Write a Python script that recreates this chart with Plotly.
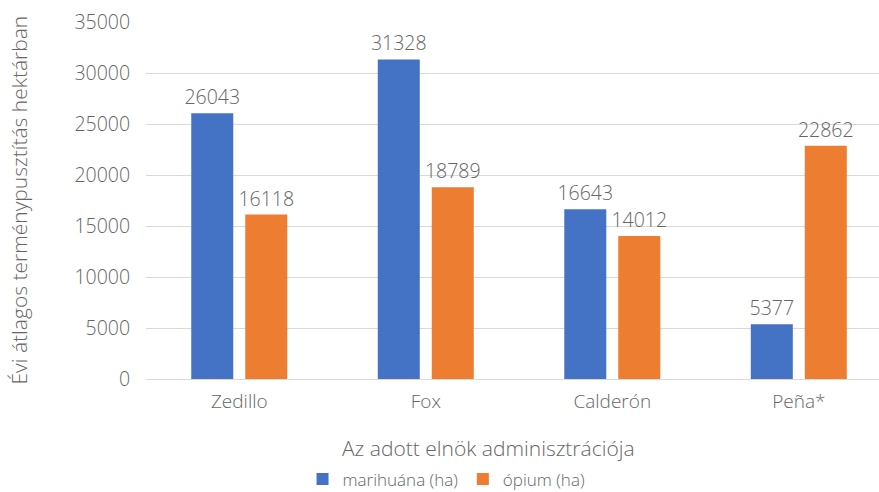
import plotly.graph_objects as go

categories = ["Zedillo", "Fox", "Calderón", "Peña*"]
marihuana = [26043, 31328, 16643, 5377]
opium = [16118, 18789, 14012, 22862]
series_names = ["marihuána (ha)", "ópium (ha)"]
y_ticks = [0, 5000, 10000, 15000, 20000, 25000, 30000, 35000]

FONT = "Open Sans"
GREY = "#666666"
W = 300

fig = go.Figure()
fig.add_trace(go.Bar(
    x=categories, y=marihuana, name=series_names[0],
    marker=dict(color="#4472C4", line=dict(width=0)),
    text=[str(v) for v in marihuana], textposition="outside", constraintext="none",
    textfont=dict(family=FONT, size=19.5, color=GREY, weight=W),
    cliponaxis=False,
))
fig.add_trace(go.Bar(
    x=categories, y=opium, name=series_names[1],
    marker=dict(color="#ED7D31", line=dict(width=0)),
    text=[str(v) for v in opium], textposition="outside", constraintext="none",
    textfont=dict(family=FONT, size=19.5, color=GREY, weight=W),
    cliponaxis=False,
))

fig.update_layout(
    width=879, height=492,
    margin=dict(l=146, r=0, t=22, b=113, autoexpand=False),
    paper_bgcolor="white", plot_bgcolor="white",
    barmode="group", bargap=0.421, bargroupgap=0.222,
    font=dict(family=FONT, color=GREY, size=18, weight=W),
    showlegend=True,
    legend=dict(
        orientation="h", xref="container", yref="container",
        x=0.508, xanchor="center", y=0.0255, yanchor="middle",
        font=dict(family=FONT, size=17, color=GREY, weight=W),
        itemwidth=30, traceorder="normal",
    ),
    xaxis=dict(
        range=[-0.5, 3.43], showgrid=False, zeroline=False,
        showline=True, linecolor="#d9d9d9", linewidth=1,
        ticks="outside", ticklen=5, tickcolor="rgba(0,0,0,0)",
        tickfont=dict(family=FONT, size=19, color=GREY, weight=W),
    ),
    yaxis=dict(
        range=[0, 35000], tickvals=y_ticks, ticktext=[str(v) for v in y_ticks],
        showgrid=True, gridcolor="#d9d9d9", gridwidth=1,
        zeroline=False, showline=False,
        ticks="outside", ticklen=11, tickcolor="rgba(0,0,0,0)",
        tickfont=dict(family=FONT, size=19.5, color=GREY, weight=W),
    ),
    annotations=[
        dict(text="Az adott elnök adminisztrációja", xref="paper", yref="paper",
             x=(488 - 146) / 733, y=(379 - 448) / 357, xanchor="center", yanchor="middle",
             showarrow=False, font=dict(family=FONT, size=21, color=GREY, weight=W)),
        dict(text="Évi átlagos terménypusztítás hektárban", xref="paper", yref="paper",
             x=(18 - 146) / 733, y=0.5, xanchor="center", yanchor="middle", textangle=-90,
             showarrow=False, font=dict(family=FONT, size=21, color=GREY, weight=W)),
    ],
)

fig.write_html("out.html", config={"displayModeBar": False},
               post_script="document.body.style.margin='0';")
